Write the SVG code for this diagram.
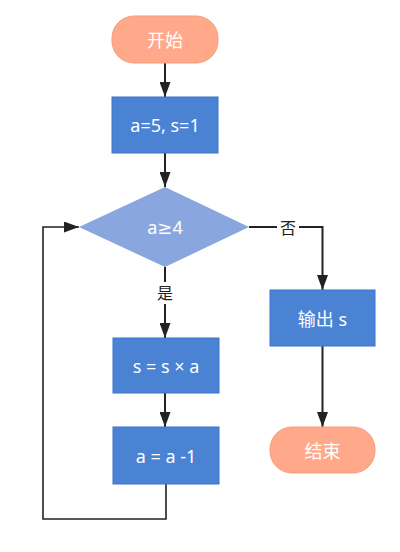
<svg xmlns="http://www.w3.org/2000/svg" width="400" height="552" viewBox="0 0 400 552">
<style>
.term{fill:#FFA98A;stroke:#F59C7E;stroke-width:1}
.proc{fill:#4A82D4;stroke:#3B74CC;stroke-width:1}
.dec{fill:#8AA6DE}
.t{font-family:"Noto Sans","Noto Sans CJK SC",sans-serif;font-size:18px;fill:#fff;text-anchor:middle;dominant-baseline:central}
.lbl{font-family:"Noto Sans","Noto Sans CJK SC",sans-serif;font-size:16px;fill:#222;text-anchor:middle;dominant-baseline:central}
.sym{font-family:"DejaVu Sans",sans-serif}
.e{fill:none;stroke:#222;stroke-width:2}
</style>
<defs>
<marker id="arr" viewBox="0 0 15 11" refX="15" refY="5.5" markerWidth="15" markerHeight="11" orient="auto" markerUnits="userSpaceOnUse">
<path d="M0,0 L15,5.5 L0,11 z" fill="#222"/>
</marker>
</defs>
<rect width="400" height="552" fill="#fff"/>
<g id="edges">
<path class="e" d="M165,63 V97" marker-end="url(#arr)"/>
<path class="e" d="M165,153 V187" marker-end="url(#arr)"/>
<path class="e" d="M165,267 V338" marker-end="url(#arr)"/>
<path class="e" d="M165,393 V427" marker-end="url(#arr)"/>
<path class="e" d="M249,227 H322.5 V290" marker-end="url(#arr)"/>
<path class="e" d="M322.5,346 V427" marker-end="url(#arr)"/>
<path class="e" style="stroke-width:1.6" d="M166,484 V519 H43 V227 H79" marker-end="url(#arr)"/>
<rect x="155" y="282" width="20" height="22" fill="#fff"/>
<text class="lbl" x="165" y="293">是</text>
<rect x="277" y="216" width="22" height="22" fill="#fff"/>
<text class="lbl" x="288" y="228">否</text>
</g>
<g id="start">
<rect class="term" x="112" y="16" width="106" height="47" rx="22"/>
<text class="t" x="165" y="40">开始</text>
</g>
<g id="init">
<rect class="proc" x="112" y="97" width="106" height="56"/>
<text class="t" x="165" y="125">a=5, s=1</text>
</g>
<g id="cond">
<path class="dec" d="M165,187 L249,227 L165,267 L79,227 Z"/>
<text class="t" x="165" y="227">a<tspan class="sym">≥</tspan>4</text>
</g>
<g id="mul">
<rect class="proc" x="113" y="338" width="106" height="55"/>
<text class="t" x="166" y="366">s = s × a</text>
</g>
<g id="dec">
<rect class="proc" x="113" y="427" width="106" height="57"/>
<text class="t" x="166" y="456">a = a -1</text>
</g>
<g id="out">
<rect class="proc" x="270" y="290" width="105" height="56"/>
<text class="t" x="322.5" y="319">输出 s</text>
</g>
<g id="end">
<rect class="term" x="270" y="427" width="105" height="46" rx="22"/>
<text class="t" x="322.5" y="451">结束</text>
</g>
</svg>
